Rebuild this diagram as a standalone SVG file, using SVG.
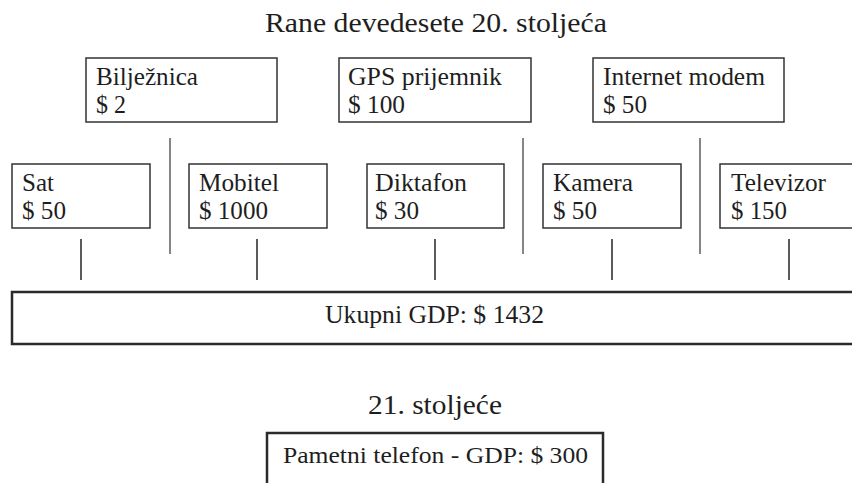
<svg xmlns="http://www.w3.org/2000/svg" width="852" height="483" viewBox="0 0 852 483">
  <style>
    text { font-family: "Liberation Serif", "Times New Roman", serif; fill: #1e1e1e; }
    .lbl { font-size: 26px; }
    .box { fill: #fff; stroke: #333; stroke-width: 1.5; }
    .heavy { fill: #fff; stroke: #2a2a2a; stroke-width: 2.5; }
    .sep { stroke: #444; stroke-width: 1.3; }
    .tick { stroke: #333; stroke-width: 1.6; }
  </style>
  <rect width="852" height="483" fill="#fff"/>

  <text id="title-early" x="265" y="32" font-size="28" textLength="342" lengthAdjust="spacingAndGlyphs">Rane devedesete 20. stoljeća</text>

  <!-- upper row -->
  <g id="biljeznica">
    <rect class="box" x="86" y="58" width="191" height="64"/>
    <text class="lbl" x="96" y="85" textLength="102" lengthAdjust="spacingAndGlyphs">Bilježnica</text>
    <text class="lbl" x="96" y="113" textLength="30" lengthAdjust="spacingAndGlyphs">$ 2</text>
  </g>
  <g id="gps">
    <rect class="box" x="339" y="58" width="192" height="64"/>
    <text class="lbl" x="348" y="85" textLength="154" lengthAdjust="spacingAndGlyphs">GPS prijemnik</text>
    <text class="lbl" x="348" y="113" textLength="57" lengthAdjust="spacingAndGlyphs">$ 100</text>
  </g>
  <g id="modem">
    <rect class="box" x="593" y="58" width="191" height="64"/>
    <text class="lbl" x="603" y="85" textLength="162" lengthAdjust="spacingAndGlyphs">Internet modem</text>
    <text class="lbl" x="603" y="113" textLength="44" lengthAdjust="spacingAndGlyphs">$ 50</text>
  </g>

  <!-- lower row -->
  <g id="sat">
    <rect class="box" x="12" y="164" width="138" height="64"/>
    <text class="lbl" x="22" y="191" textLength="32" lengthAdjust="spacingAndGlyphs">Sat</text>
    <text class="lbl" x="22" y="219" textLength="44" lengthAdjust="spacingAndGlyphs">$ 50</text>
  </g>
  <g id="mobitel">
    <rect class="box" x="189" y="164" width="138" height="64"/>
    <text class="lbl" x="199" y="191" textLength="80" lengthAdjust="spacingAndGlyphs">Mobitel</text>
    <text class="lbl" x="199" y="219" textLength="69" lengthAdjust="spacingAndGlyphs">$ 1000</text>
  </g>
  <g id="diktafon">
    <rect class="box" x="367" y="164" width="137" height="64"/>
    <text class="lbl" x="375" y="191" textLength="92" lengthAdjust="spacingAndGlyphs">Diktafon</text>
    <text class="lbl" x="375" y="219" textLength="44" lengthAdjust="spacingAndGlyphs">$ 30</text>
  </g>
  <g id="kamera">
    <rect class="box" x="543" y="164" width="138" height="64"/>
    <text class="lbl" x="553" y="191" textLength="80" lengthAdjust="spacingAndGlyphs">Kamera</text>
    <text class="lbl" x="553" y="219" textLength="44" lengthAdjust="spacingAndGlyphs">$ 50</text>
  </g>
  <g id="televizor">
    <rect class="box" x="720" y="164" width="138" height="64"/>
    <text class="lbl" x="731" y="191" textLength="95" lengthAdjust="spacingAndGlyphs">Televizor</text>
    <text class="lbl" x="731" y="219" textLength="56" lengthAdjust="spacingAndGlyphs">$ 150</text>
  </g>

  <!-- separators and ticks -->
  <g id="connectors">
    <line class="sep" x1="170" y1="138" x2="170" y2="254"/>
    <line class="sep" x1="523" y1="138" x2="523" y2="254"/>
    <line class="sep" x1="700" y1="138" x2="700" y2="254"/>
    <line class="tick" x1="81" y1="239" x2="81" y2="280"/>
    <line class="tick" x1="257" y1="239" x2="257" y2="280" stroke="#777"/>
    <line class="tick" x1="435" y1="239" x2="435" y2="280"/>
    <line class="tick" x1="612" y1="239" x2="612" y2="280" stroke="#777"/>
    <line class="tick" x1="789" y1="239" x2="789" y2="280"/>
  </g>

  <g id="total">
    <rect class="heavy" x="12" y="292" width="850" height="52"/>
    <text x="325" y="323" font-size="25" textLength="219" lengthAdjust="spacingAndGlyphs">Ukupni GDP: $ 1432</text>
  </g>

  <text id="title-modern" x="368" y="414" font-size="28" textLength="134" lengthAdjust="spacingAndGlyphs">21. stoljeće</text>

  <g id="pametni">
    <rect class="heavy" x="267" y="433" width="336" height="70"/>
    <text x="283" y="463" font-size="24" textLength="305" lengthAdjust="spacingAndGlyphs">Pametni telefon - GDP: $ 300</text>
  </g>
</svg>
